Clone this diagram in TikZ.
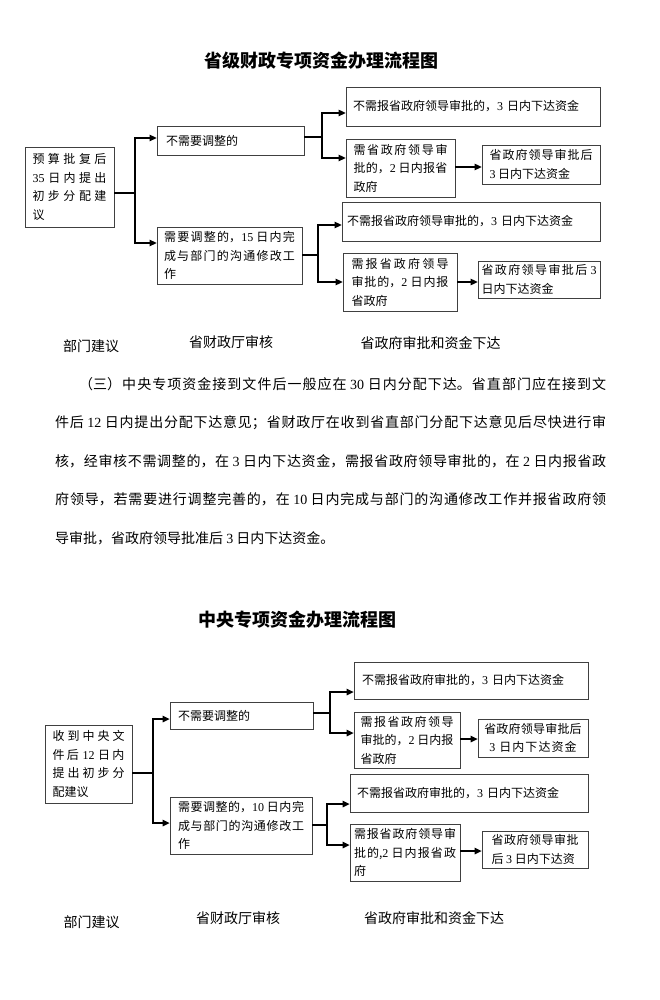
\documentclass[tikz,border=0pt]{standalone}
\usepackage{fontspec}
\setmainfont{Noto Sans CJK SC}
\newfontfamily\latfont{Liberation Serif}
\newcommand\dg[1]{{\latfont #1}}
\usetikzlibrary{arrows.meta}
\XeTeXlinebreaklocale "zh"
\XeTeXlinebreakskip=0pt plus 4pt minus 0.3pt
\setlength{\parindent}{0pt}
\tikzset{
  bx/.style={draw=black!75, line width=0.8pt, inner sep=0pt,
             font=\fontsize{12}{18.5}\selectfont, align=justify},
  ln/.style={line width=1.3pt},
  ar/.style={line width=1.3pt, -{Triangle[length=7pt,width=6.5pt]}},
  lab/.style={font=\fontsize{14}{14}\selectfont, inner sep=0pt},
  ttl/.style={font=\fontsize{18}{18}\selectfont\bfseries, inner sep=0pt},
  para/.style={font=\fontsize{14}{38.5}\selectfont, inner sep=0pt,
               text width=551pt, align=justify}
}
\begin{document}
\begin{tikzpicture}[x=1pt,y=-1pt]
\useasboundingbox (0,0) rectangle (660,1000);

% ---------- top diagram ----------
\node[ttl] (T1) at (321,61) {省级财政专项资金办理流程图};

\node[bx, minimum width=89pt, minimum height=80pt, text width=74pt] (A1) at (69.5,187)
  {预算批复后\linebreak \dg{35} 日内提出\linebreak 初步分配建\linebreak 议};
\node[bx, minimum width=147pt, minimum height=29pt, text width=129pt, align=left] (B11) at (230.5,140.5)
  {不需要调整的};
\node[bx, minimum width=145pt, minimum height=57pt, text width=131pt] (B21) at (229.5,255.5)
  {需要调整的，\dg{15} 日内完\linebreak 成与部门的沟通修改工\linebreak 作};
\node[bx, minimum width=254pt, minimum height=39pt, text width=240pt, align=left] (C11) at (473,106.5)
  {不需报省政府领导审批的，\dg{3} 日内下达资金};
\node[bx, minimum width=109pt, minimum height=58pt, text width=94pt] (C21) at (400.5,168)
  {需省政府领导审\linebreak 批的，\dg{2} 日内报省\linebreak 政府};
\node[bx, minimum width=118pt, minimum height=39pt, text width=103pt] (C31) at (541,164.5)
  {省政府领导审批后\linebreak \dg{3} 日内下达资金};
\node[bx, minimum width=258pt, minimum height=39pt, text width=248pt, align=left] (C41) at (471,221.5)
  {不需报省政府领导审批的，\dg{3} 日内下达资金};
\node[bx, minimum width=114pt, minimum height=58pt, text width=97pt] (C51) at (400,282)
  {需报省政府领导\linebreak 审批的，\dg{2} 日内报\linebreak 省政府};
\node[bx, minimum width=122pt, minimum height=37pt, text width=115pt] (C61) at (539,279.5)
  {省政府领导审批后 \dg{3}\linebreak 日内下达资金};

\coordinate (t1) at (135,193);
\coordinate (t1a) at (135,138);
\coordinate (t1b) at (135,243);
\draw[ln] (A1.east |- t1) -- (t1);
\draw[ar] (t1) |- (B11.west |- t1a);
\draw[ar] (t1) |- (B21.west |- t1b);

\coordinate (t2) at (322,137);
\coordinate (t2a) at (322,113);
\coordinate (t2b) at (322,158);
\draw[ln] (B11.east |- t2) -- (t2);
\draw[ar] (t2) |- (C11.west |- t2a);
\draw[ar] (t2) |- (C21.west |- t2b);

\coordinate (t3) at (318,255);
\coordinate (t3a) at (318,225);
\coordinate (t3b) at (318,282);
\draw[ln] (B21.east |- t3) -- (t3);
\draw[ar] (t3) |- (C41.west |- t3a);
\draw[ar] (t3) |- (C51.west |- t3b);

\coordinate (t4) at (468,167);
\draw[ar] (C21.east |- t4) -- (C31.west |- t4);
\coordinate (t5) at (468,282);
\draw[ar] (C51.east |- t5) -- (C61.west |- t5);

\node[lab] (L11) at (91,346) {部门建议};
\node[lab] (L21) at (231,342) {省财政厅审核};
\node[lab] (L31) at (430.5,343) {省政府审批和资金下达};

% ---------- paragraph ----------
\node[para, anchor=north west] (P) at (55,377)
  {\hspace*{24pt}（三）中央专项资金接到文件后一般应在 \dg{30} 日内分配下达。省直部门应在接到文\linebreak
   件后 \dg{12} 日内提出分配下达意见；省财政厅在收到省直部门分配下达意见后尽快进行审\linebreak
   核，经审核不需调整的，在 \dg{3} 日内下达资金，需报省政府领导审批的，在 \dg{2} 日内报省政\linebreak
   府领导，若需要进行调整完善的，在 \dg{10} 日内完成与部门的沟通修改工作并报省政府领\linebreak
   导审批，省政府领导批准后 \dg{3} 日内下达资金。};

% ---------- bottom diagram ----------
\node[ttl] (T2) at (297,620) {中央专项资金办理流程图};

\node[bx, minimum width=87pt, minimum height=78pt, text width=72pt] (A2) at (88.5,764)
  {收到中央文\linebreak 件后 \dg{12} 日内\linebreak 提出初步分\linebreak 配建议};
\node[bx, minimum width=143pt, minimum height=27pt, text width=127pt, align=left] (B12) at (241.5,715.5)
  {不需要调整的};
\node[bx, minimum width=142pt, minimum height=57pt, text width=126pt] (B22) at (241,825.5)
  {需要调整的，\dg{10} 日内完\linebreak 成与部门的沟通修改工\linebreak 作};
\node[bx, minimum width=234pt, minimum height=37pt, text width=218pt, align=left] (C12) at (471,680.5)
  {不需报省政府审批的，\dg{3} 日内下达资金};
\node[bx, minimum width=106pt, minimum height=56pt, text width=93pt] (C22) at (407,740)
  {需报省政府领导\linebreak 审批的，\dg{2} 日内报\linebreak 省政府};
\node[bx, minimum width=110pt, minimum height=38pt, text width=100pt, align=center] (C32) at (533,738)
  {省政府领导审批后\\ \dg{3} 日内下达资金};
\node[bx, minimum width=238pt, minimum height=38pt, text width=224pt, align=left] (C42) at (469,793)
  {不需报省政府审批的，\dg{3} 日内下达资金};
\node[bx, minimum width=110pt, minimum height=57pt, text width=102pt] (C52) at (405,852.5)
  {需报省政府领导审\linebreak 批的,\dg{2} 日内报省政\linebreak 府};
\node[bx, minimum width=106pt, minimum height=37pt, text width=87pt] (C62) at (535,849.5)
  {省政府领导审批\linebreak 后 \dg{3} 日内下达资};

\coordinate (u1) at (153,773);
\coordinate (u1a) at (153,719);
\coordinate (u1b) at (153,823);
\draw[ln] (A2.east |- u1) -- (u1);
\draw[ar] (u1) |- (B12.west |- u1a);
\draw[ar] (u1) |- (B22.west |- u1b);

\coordinate (u2) at (330,713);
\coordinate (u2a) at (330,692);
\coordinate (u2b) at (330,733);
\draw[ln] (B12.east |- u2) -- (u2);
\draw[ar] (u2) |- (C12.west |- u2a);
\draw[ar] (u2) |- (C22.west |- u2b);

\coordinate (u3) at (327,825);
\coordinate (u3a) at (327,804);
\coordinate (u3b) at (327,845);
\draw[ln] (B22.east |- u3) -- (u3);
\draw[ar] (u3) |- (C42.west |- u3a);
\draw[ar] (u3) |- (C52.west |- u3b);

\coordinate (u4) at (470,739);
\draw[ar] (C22.east |- u4) -- (C32.west |- u4);
\coordinate (u5) at (470,851);
\draw[ar] (C52.east |- u5) -- (C62.west |- u5);

\node[lab] (L12) at (91.5,922) {部门建议};
\node[lab] (L22) at (238,918) {省财政厅审核};
\node[lab] (L32) at (434,918) {省政府审批和资金下达};
\end{tikzpicture}
\end{document}
